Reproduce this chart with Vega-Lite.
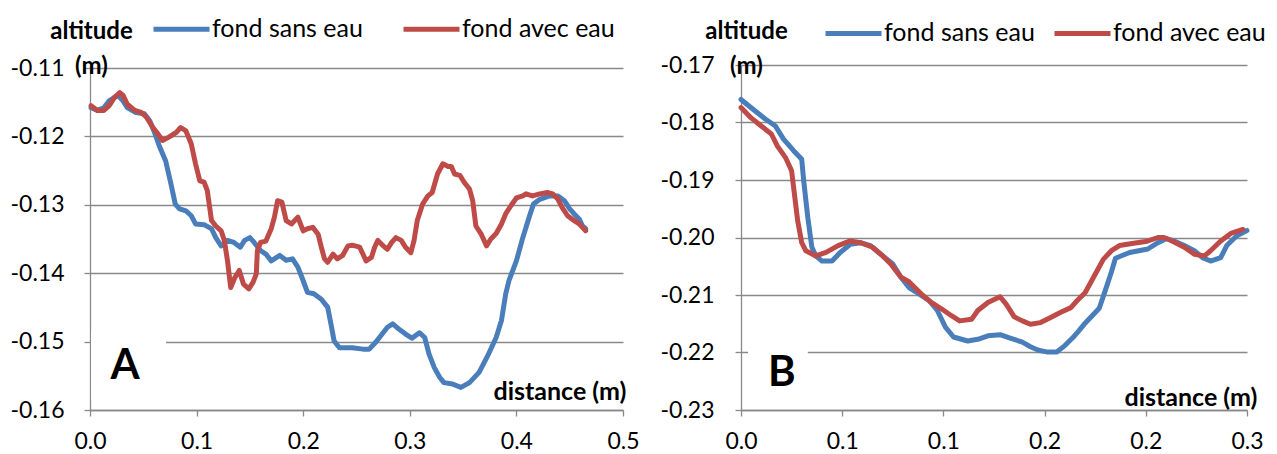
{
  "$schema": "https://vega.github.io/schema/vega-lite/v6.json",
  "autosize": {"type": "pad"},
  "padding": {"left": 10, "top": -2, "right": 0, "bottom": 0},
  "background": "white",
  "bounds": "flush",
  "spacing": 118,
  "config": {
    "font": "Lato",
    "view": {"stroke": null},
    "axis": {
      "labelFont": "Lato", "labelFontSize": 23, "labelColor": "black", "labelFlush": false,
      "domainColor": "#898989", "tickColor": "#898989", "gridColor": "#898989",
      "domainWidth": 1.3, "tickWidth": 1.3, "gridWidth": 1.3, "gridOpacity": 1,
      "tickSize": 6,
      "titleFont": "Lato", "titleFontSize": 24, "titleFontWeight": "bold", "titleColor": "black"
    },
    "legend": {
      "labelFont": "Lato", "labelFontSize": 25, "labelColor": "black", "labelLimit": 400,
      "symbolType": "stroke", "symbolSize": 3136, "symbolStrokeWidth": 5,
      "labelOffset": 0, "padding": 0, "direction": "horizontal", "orient": "none", "title": null
    }
  },
  "resolve": {"scale": {"color": "independent"}},
  "datasets": {
    "A": [
      {"d":0.001,"z":-0.1158,"s":"fond sans eau"},{"d":0.007,"z":-0.1162,"s":"fond sans eau"},{"d":0.013,"z":-0.1158,"s":"fond sans eau"},{"d":0.018,"z":-0.1148,"s":"fond sans eau"},{"d":0.026,"z":-0.1140,"s":"fond sans eau"},{"d":0.031,"z":-0.1148,"s":"fond sans eau"},{"d":0.035,"z":-0.1158,"s":"fond sans eau"},{"d":0.043,"z":-0.1165,"s":"fond sans eau"},{"d":0.051,"z":-0.1167,"s":"fond sans eau"},{"d":0.056,"z":-0.1177,"s":"fond sans eau"},{"d":0.060,"z":-0.1192,"s":"fond sans eau"},{"d":0.065,"z":-0.1214,"s":"fond sans eau"},{"d":0.071,"z":-0.1236,"s":"fond sans eau"},{"d":0.076,"z":-0.1270,"s":"fond sans eau"},{"d":0.080,"z":-0.1299,"s":"fond sans eau"},{"d":0.084,"z":-0.1306,"s":"fond sans eau"},{"d":0.090,"z":-0.1309,"s":"fond sans eau"},{"d":0.095,"z":-0.1316,"s":"fond sans eau"},{"d":0.099,"z":-0.1328,"s":"fond sans eau"},{"d":0.107,"z":-0.1329,"s":"fond sans eau"},{"d":0.114,"z":-0.1335,"s":"fond sans eau"},{"d":0.118,"z":-0.1348,"s":"fond sans eau"},{"d":0.123,"z":-0.1360,"s":"fond sans eau"},{"d":0.129,"z":-0.1352,"s":"fond sans eau"},{"d":0.135,"z":-0.1355,"s":"fond sans eau"},{"d":0.141,"z":-0.1362,"s":"fond sans eau"},{"d":0.145,"z":-0.1352,"s":"fond sans eau"},{"d":0.150,"z":-0.1348,"s":"fond sans eau"},{"d":0.154,"z":-0.1355,"s":"fond sans eau"},{"d":0.160,"z":-0.1367,"s":"fond sans eau"},{"d":0.165,"z":-0.1372,"s":"fond sans eau"},{"d":0.170,"z":-0.1382,"s":"fond sans eau"},{"d":0.178,"z":-0.1374,"s":"fond sans eau"},{"d":0.184,"z":-0.1381,"s":"fond sans eau"},{"d":0.190,"z":-0.1379,"s":"fond sans eau"},{"d":0.195,"z":-0.1391,"s":"fond sans eau"},{"d":0.200,"z":-0.1411,"s":"fond sans eau"},{"d":0.204,"z":-0.1428,"s":"fond sans eau"},{"d":0.210,"z":-0.1430,"s":"fond sans eau"},{"d":0.217,"z":-0.1438,"s":"fond sans eau"},{"d":0.223,"z":-0.1450,"s":"fond sans eau"},{"d":0.226,"z":-0.1474,"s":"fond sans eau"},{"d":0.229,"z":-0.1499,"s":"fond sans eau"},{"d":0.234,"z":-0.1509,"s":"fond sans eau"},{"d":0.246,"z":-0.1509,"s":"fond sans eau"},{"d":0.256,"z":-0.1511,"s":"fond sans eau"},{"d":0.262,"z":-0.1511,"s":"fond sans eau"},{"d":0.268,"z":-0.1501,"s":"fond sans eau"},{"d":0.275,"z":-0.1487,"s":"fond sans eau"},{"d":0.279,"z":-0.1479,"s":"fond sans eau"},{"d":0.284,"z":-0.1474,"s":"fond sans eau"},{"d":0.290,"z":-0.1482,"s":"fond sans eau"},{"d":0.296,"z":-0.1489,"s":"fond sans eau"},{"d":0.302,"z":-0.1495,"s":"fond sans eau"},{"d":0.309,"z":-0.1487,"s":"fond sans eau"},{"d":0.314,"z":-0.1494,"s":"fond sans eau"},{"d":0.318,"z":-0.1518,"s":"fond sans eau"},{"d":0.323,"z":-0.1538,"s":"fond sans eau"},{"d":0.328,"z":-0.1552,"s":"fond sans eau"},{"d":0.332,"z":-0.1560,"s":"fond sans eau"},{"d":0.340,"z":-0.1562,"s":"fond sans eau"},{"d":0.348,"z":-0.1567,"s":"fond sans eau"},{"d":0.356,"z":-0.1560,"s":"fond sans eau"},{"d":0.365,"z":-0.1545,"s":"fond sans eau"},{"d":0.373,"z":-0.1521,"s":"fond sans eau"},{"d":0.381,"z":-0.1494,"s":"fond sans eau"},{"d":0.386,"z":-0.1469,"s":"fond sans eau"},{"d":0.390,"z":-0.1430,"s":"fond sans eau"},{"d":0.393,"z":-0.1411,"s":"fond sans eau"},{"d":0.400,"z":-0.1382,"s":"fond sans eau"},{"d":0.406,"z":-0.1348,"s":"fond sans eau"},{"d":0.412,"z":-0.1318,"s":"fond sans eau"},{"d":0.416,"z":-0.1299,"s":"fond sans eau"},{"d":0.422,"z":-0.1292,"s":"fond sans eau"},{"d":0.431,"z":-0.1287,"s":"fond sans eau"},{"d":0.439,"z":-0.1287,"s":"fond sans eau"},{"d":0.445,"z":-0.1294,"s":"fond sans eau"},{"d":0.450,"z":-0.1306,"s":"fond sans eau"},{"d":0.454,"z":-0.1313,"s":"fond sans eau"},{"d":0.459,"z":-0.1321,"s":"fond sans eau"},{"d":0.462,"z":-0.1331,"s":"fond sans eau"},{"d":0.465,"z":-0.1335,"s":"fond sans eau"},
      {"d":0.001,"z":-0.1155,"s":"fond avec eau"},{"d":0.007,"z":-0.1162,"s":"fond avec eau"},{"d":0.013,"z":-0.1162,"s":"fond avec eau"},{"d":0.018,"z":-0.1155,"s":"fond avec eau"},{"d":0.023,"z":-0.1143,"s":"fond avec eau"},{"d":0.028,"z":-0.1136,"s":"fond avec eau"},{"d":0.031,"z":-0.1140,"s":"fond avec eau"},{"d":0.035,"z":-0.1153,"s":"fond avec eau"},{"d":0.042,"z":-0.1162,"s":"fond avec eau"},{"d":0.048,"z":-0.1165,"s":"fond avec eau"},{"d":0.053,"z":-0.1172,"s":"fond avec eau"},{"d":0.059,"z":-0.1187,"s":"fond avec eau"},{"d":0.064,"z":-0.1197,"s":"fond avec eau"},{"d":0.068,"z":-0.1206,"s":"fond avec eau"},{"d":0.074,"z":-0.1201,"s":"fond avec eau"},{"d":0.081,"z":-0.1194,"s":"fond avec eau"},{"d":0.085,"z":-0.1187,"s":"fond avec eau"},{"d":0.090,"z":-0.1192,"s":"fond avec eau"},{"d":0.095,"z":-0.1211,"s":"fond avec eau"},{"d":0.099,"z":-0.1240,"s":"fond avec eau"},{"d":0.103,"z":-0.1265,"s":"fond avec eau"},{"d":0.107,"z":-0.1267,"s":"fond avec eau"},{"d":0.110,"z":-0.1279,"s":"fond avec eau"},{"d":0.114,"z":-0.1323,"s":"fond avec eau"},{"d":0.118,"z":-0.1331,"s":"fond avec eau"},{"d":0.123,"z":-0.1338,"s":"fond avec eau"},{"d":0.126,"z":-0.1352,"s":"fond avec eau"},{"d":0.129,"z":-0.1382,"s":"fond avec eau"},{"d":0.132,"z":-0.1421,"s":"fond avec eau"},{"d":0.136,"z":-0.1406,"s":"fond avec eau"},{"d":0.140,"z":-0.1396,"s":"fond avec eau"},{"d":0.144,"z":-0.1416,"s":"fond avec eau"},{"d":0.149,"z":-0.1423,"s":"fond avec eau"},{"d":0.153,"z":-0.1413,"s":"fond avec eau"},{"d":0.156,"z":-0.1401,"s":"fond avec eau"},{"d":0.157,"z":-0.1367,"s":"fond avec eau"},{"d":0.160,"z":-0.1355,"s":"fond avec eau"},{"d":0.165,"z":-0.1353,"s":"fond avec eau"},{"d":0.170,"z":-0.1335,"s":"fond avec eau"},{"d":0.173,"z":-0.1318,"s":"fond avec eau"},{"d":0.176,"z":-0.1294,"s":"fond avec eau"},{"d":0.180,"z":-0.1296,"s":"fond avec eau"},{"d":0.184,"z":-0.1323,"s":"fond avec eau"},{"d":0.189,"z":-0.1328,"s":"fond avec eau"},{"d":0.195,"z":-0.1318,"s":"fond avec eau"},{"d":0.200,"z":-0.1338,"s":"fond avec eau"},{"d":0.204,"z":-0.1335,"s":"fond avec eau"},{"d":0.209,"z":-0.1333,"s":"fond avec eau"},{"d":0.214,"z":-0.1343,"s":"fond avec eau"},{"d":0.217,"z":-0.1362,"s":"fond avec eau"},{"d":0.220,"z":-0.1379,"s":"fond avec eau"},{"d":0.223,"z":-0.1384,"s":"fond avec eau"},{"d":0.228,"z":-0.1372,"s":"fond avec eau"},{"d":0.232,"z":-0.1379,"s":"fond avec eau"},{"d":0.237,"z":-0.1374,"s":"fond avec eau"},{"d":0.242,"z":-0.1360,"s":"fond avec eau"},{"d":0.246,"z":-0.1359,"s":"fond avec eau"},{"d":0.253,"z":-0.1362,"s":"fond avec eau"},{"d":0.256,"z":-0.1372,"s":"fond avec eau"},{"d":0.259,"z":-0.1382,"s":"fond avec eau"},{"d":0.264,"z":-0.1377,"s":"fond avec eau"},{"d":0.267,"z":-0.1362,"s":"fond avec eau"},{"d":0.270,"z":-0.1352,"s":"fond avec eau"},{"d":0.275,"z":-0.1360,"s":"fond avec eau"},{"d":0.279,"z":-0.1365,"s":"fond avec eau"},{"d":0.283,"z":-0.1355,"s":"fond avec eau"},{"d":0.287,"z":-0.1348,"s":"fond avec eau"},{"d":0.292,"z":-0.1352,"s":"fond avec eau"},{"d":0.296,"z":-0.1362,"s":"fond avec eau"},{"d":0.301,"z":-0.1370,"s":"fond avec eau"},{"d":0.304,"z":-0.1352,"s":"fond avec eau"},{"d":0.307,"z":-0.1323,"s":"fond avec eau"},{"d":0.312,"z":-0.1299,"s":"fond avec eau"},{"d":0.317,"z":-0.1287,"s":"fond avec eau"},{"d":0.321,"z":-0.1282,"s":"fond avec eau"},{"d":0.326,"z":-0.1255,"s":"fond avec eau"},{"d":0.331,"z":-0.1240,"s":"fond avec eau"},{"d":0.336,"z":-0.1244,"s":"fond avec eau"},{"d":0.339,"z":-0.1244,"s":"fond avec eau"},{"d":0.342,"z":-0.1255,"s":"fond avec eau"},{"d":0.347,"z":-0.1257,"s":"fond avec eau"},{"d":0.351,"z":-0.1267,"s":"fond avec eau"},{"d":0.356,"z":-0.1277,"s":"fond avec eau"},{"d":0.359,"z":-0.1294,"s":"fond avec eau"},{"d":0.362,"z":-0.1331,"s":"fond avec eau"},{"d":0.367,"z":-0.1343,"s":"fond avec eau"},{"d":0.372,"z":-0.1360,"s":"fond avec eau"},{"d":0.376,"z":-0.1350,"s":"fond avec eau"},{"d":0.381,"z":-0.1342,"s":"fond avec eau"},{"d":0.386,"z":-0.1328,"s":"fond avec eau"},{"d":0.390,"z":-0.1313,"s":"fond avec eau"},{"d":0.395,"z":-0.1301,"s":"fond avec eau"},{"d":0.400,"z":-0.1290,"s":"fond avec eau"},{"d":0.406,"z":-0.1287,"s":"fond avec eau"},{"d":0.409,"z":-0.1284,"s":"fond avec eau"},{"d":0.415,"z":-0.1287,"s":"fond avec eau"},{"d":0.422,"z":-0.1284,"s":"fond avec eau"},{"d":0.429,"z":-0.1282,"s":"fond avec eau"},{"d":0.434,"z":-0.1284,"s":"fond avec eau"},{"d":0.439,"z":-0.1292,"s":"fond avec eau"},{"d":0.443,"z":-0.1304,"s":"fond avec eau"},{"d":0.448,"z":-0.1316,"s":"fond avec eau"},{"d":0.453,"z":-0.1322,"s":"fond avec eau"},{"d":0.459,"z":-0.1328,"s":"fond avec eau"},{"d":0.462,"z":-0.1333,"s":"fond avec eau"},{"d":0.465,"z":-0.1338,"s":"fond avec eau"}
    ],
    "B": [
      {"d":0.000,"z":-0.1760,"s":"fond sans eau"},{"d":0.007,"z":-0.1780,"s":"fond sans eau"},{"d":0.012,"z":-0.1794,"s":"fond sans eau"},{"d":0.017,"z":-0.1806,"s":"fond sans eau"},{"d":0.021,"z":-0.1829,"s":"fond sans eau"},{"d":0.026,"z":-0.1849,"s":"fond sans eau"},{"d":0.030,"z":-0.1864,"s":"fond sans eau"},{"d":0.031,"z":-0.1902,"s":"fond sans eau"},{"d":0.033,"z":-0.1965,"s":"fond sans eau"},{"d":0.035,"z":-0.2017,"s":"fond sans eau"},{"d":0.037,"z":-0.2032,"s":"fond sans eau"},{"d":0.040,"z":-0.2041,"s":"fond sans eau"},{"d":0.045,"z":-0.2041,"s":"fond sans eau"},{"d":0.049,"z":-0.2026,"s":"fond sans eau"},{"d":0.054,"z":-0.2012,"s":"fond sans eau"},{"d":0.059,"z":-0.2009,"s":"fond sans eau"},{"d":0.064,"z":-0.2014,"s":"fond sans eau"},{"d":0.069,"z":-0.2029,"s":"fond sans eau"},{"d":0.075,"z":-0.2046,"s":"fond sans eau"},{"d":0.079,"z":-0.2069,"s":"fond sans eau"},{"d":0.083,"z":-0.2087,"s":"fond sans eau"},{"d":0.087,"z":-0.2096,"s":"fond sans eau"},{"d":0.093,"z":-0.2110,"s":"fond sans eau"},{"d":0.097,"z":-0.2127,"s":"fond sans eau"},{"d":0.101,"z":-0.2156,"s":"fond sans eau"},{"d":0.105,"z":-0.2173,"s":"fond sans eau"},{"d":0.112,"z":-0.2180,"s":"fond sans eau"},{"d":0.117,"z":-0.2177,"s":"fond sans eau"},{"d":0.122,"z":-0.2171,"s":"fond sans eau"},{"d":0.128,"z":-0.2169,"s":"fond sans eau"},{"d":0.133,"z":-0.2175,"s":"fond sans eau"},{"d":0.139,"z":-0.2182,"s":"fond sans eau"},{"d":0.143,"z":-0.2190,"s":"fond sans eau"},{"d":0.147,"z":-0.2196,"s":"fond sans eau"},{"d":0.151,"z":-0.2199,"s":"fond sans eau"},{"d":0.156,"z":-0.2199,"s":"fond sans eau"},{"d":0.160,"z":-0.2188,"s":"fond sans eau"},{"d":0.164,"z":-0.2174,"s":"fond sans eau"},{"d":0.167,"z":-0.2162,"s":"fond sans eau"},{"d":0.170,"z":-0.2149,"s":"fond sans eau"},{"d":0.177,"z":-0.2123,"s":"fond sans eau"},{"d":0.180,"z":-0.2092,"s":"fond sans eau"},{"d":0.183,"z":-0.2060,"s":"fond sans eau"},{"d":0.185,"z":-0.2036,"s":"fond sans eau"},{"d":0.192,"z":-0.2026,"s":"fond sans eau"},{"d":0.201,"z":-0.2020,"s":"fond sans eau"},{"d":0.206,"z":-0.2009,"s":"fond sans eau"},{"d":0.210,"z":-0.2002,"s":"fond sans eau"},{"d":0.214,"z":-0.2006,"s":"fond sans eau"},{"d":0.219,"z":-0.2014,"s":"fond sans eau"},{"d":0.224,"z":-0.2023,"s":"fond sans eau"},{"d":0.228,"z":-0.2035,"s":"fond sans eau"},{"d":0.232,"z":-0.2041,"s":"fond sans eau"},{"d":0.237,"z":-0.2035,"s":"fond sans eau"},{"d":0.240,"z":-0.2014,"s":"fond sans eau"},{"d":0.245,"z":-0.1997,"s":"fond sans eau"},{"d":0.250,"z":-0.1988,"s":"fond sans eau"},
      {"d":0.000,"z":-0.1774,"s":"fond avec eau"},{"d":0.005,"z":-0.1792,"s":"fond avec eau"},{"d":0.010,"z":-0.1806,"s":"fond avec eau"},{"d":0.015,"z":-0.1820,"s":"fond avec eau"},{"d":0.018,"z":-0.1841,"s":"fond avec eau"},{"d":0.022,"z":-0.1861,"s":"fond avec eau"},{"d":0.025,"z":-0.1884,"s":"fond avec eau"},{"d":0.026,"z":-0.1913,"s":"fond avec eau"},{"d":0.028,"z":-0.1971,"s":"fond avec eau"},{"d":0.030,"z":-0.2009,"s":"fond avec eau"},{"d":0.032,"z":-0.2023,"s":"fond avec eau"},{"d":0.037,"z":-0.2032,"s":"fond avec eau"},{"d":0.042,"z":-0.2026,"s":"fond avec eau"},{"d":0.048,"z":-0.2014,"s":"fond avec eau"},{"d":0.054,"z":-0.2006,"s":"fond avec eau"},{"d":0.059,"z":-0.2009,"s":"fond avec eau"},{"d":0.065,"z":-0.2017,"s":"fond avec eau"},{"d":0.070,"z":-0.2032,"s":"fond avec eau"},{"d":0.074,"z":-0.2046,"s":"fond avec eau"},{"d":0.079,"z":-0.2069,"s":"fond avec eau"},{"d":0.083,"z":-0.2077,"s":"fond avec eau"},{"d":0.085,"z":-0.2084,"s":"fond avec eau"},{"d":0.089,"z":-0.2098,"s":"fond avec eau"},{"d":0.094,"z":-0.2113,"s":"fond avec eau"},{"d":0.099,"z":-0.2124,"s":"fond avec eau"},{"d":0.104,"z":-0.2136,"s":"fond avec eau"},{"d":0.108,"z":-0.2145,"s":"fond avec eau"},{"d":0.114,"z":-0.2142,"s":"fond avec eau"},{"d":0.117,"z":-0.2127,"s":"fond avec eau"},{"d":0.122,"z":-0.2113,"s":"fond avec eau"},{"d":0.128,"z":-0.2103,"s":"fond avec eau"},{"d":0.131,"z":-0.2116,"s":"fond avec eau"},{"d":0.135,"z":-0.2138,"s":"fond avec eau"},{"d":0.139,"z":-0.2145,"s":"fond avec eau"},{"d":0.143,"z":-0.2151,"s":"fond avec eau"},{"d":0.148,"z":-0.2148,"s":"fond avec eau"},{"d":0.153,"z":-0.2139,"s":"fond avec eau"},{"d":0.158,"z":-0.2130,"s":"fond avec eau"},{"d":0.163,"z":-0.2122,"s":"fond avec eau"},{"d":0.166,"z":-0.2110,"s":"fond avec eau"},{"d":0.170,"z":-0.2096,"s":"fond avec eau"},{"d":0.175,"z":-0.2064,"s":"fond avec eau"},{"d":0.179,"z":-0.2038,"s":"fond avec eau"},{"d":0.183,"z":-0.2023,"s":"fond avec eau"},{"d":0.187,"z":-0.2014,"s":"fond avec eau"},{"d":0.194,"z":-0.2010,"s":"fond avec eau"},{"d":0.200,"z":-0.2007,"s":"fond avec eau"},{"d":0.206,"z":-0.2000,"s":"fond avec eau"},{"d":0.209,"z":-0.2000,"s":"fond avec eau"},{"d":0.213,"z":-0.2006,"s":"fond avec eau"},{"d":0.219,"z":-0.2017,"s":"fond avec eau"},{"d":0.224,"z":-0.2029,"s":"fond avec eau"},{"d":0.229,"z":-0.2032,"s":"fond avec eau"},{"d":0.232,"z":-0.2023,"s":"fond avec eau"},{"d":0.237,"z":-0.2006,"s":"fond avec eau"},{"d":0.242,"z":-0.1993,"s":"fond avec eau"},{"d":0.248,"z":-0.1986,"s":"fond avec eau"}
    ]
  },
  "hconcat": [
    {
      "width": 533,
      "height": 345,
      "layer": [
        {
          "data": {"name": "A"},
          "mark": {"type": "line", "strokeWidth": 5, "strokeCap": "round", "strokeJoin": "round"},
          "encoding": {
            "x": {
              "field": "d", "type": "quantitative",
              "scale": {"domain": [0, 0.5], "nice": false, "zero": false},
              "axis": {
                "values": [0, 0.1, 0.2, 0.3, 0.4, 0.5], "format": ".1f", "grid": false,
                "labelPadding": 14,
                "title": "distance (m)", "titleFontSize": 25, "titleAlign": "right", "titleBaseline": "middle",
                "titleX": 536, "titleY": -19
              }
            },
            "y": {
              "field": "z", "type": "quantitative",
              "scale": {"domain": [-0.16, -0.10956], "nice": false, "zero": false},
              "axis": {
                "values": [-0.16, -0.15, -0.14, -0.13, -0.12, -0.11],
                "labelExpr": "'-' + format(-datum.value, '.2f')",
                "grid": true, "labelPadding": 20,
                "title": ["altitude", "(m)"], "titleAngle": 0, "titleAlign": "center",
                "titleBaseline": "top", "titleX": 1, "titleY": -45.5, "titleLineHeight": 35
              }
            },
            "color": {
              "field": "s", "type": "nominal",
              "scale": {"domain": ["fond sans eau", "fond avec eau"], "range": ["#4A7EBB", "#BE4B48"]},
              "legend": {"legendX": 61, "legendY": -66.6, "columnPadding": 30}
            },
            "order": {"field": "d", "type": "quantitative"}
          }
        },
        {
          "data": {"values": [{}]},
          "mark": {"type": "rect", "color": "white"},
          "encoding": {
            "x": {"datum": 0.001, "type": "quantitative"},
            "x2": {"datum": 0.0713},
            "y": {"datum": -0.1585, "type": "quantitative"},
            "y2": {"datum": -0.1485}
          }
        },
        {
          "data": {"values": [{}]},
          "mark": {"type": "text", "text": "A", "font": "Lato", "fontSize": 42, "fontWeight": "bold", "color": "black", "baseline": "middle", "align": "center"},
          "encoding": {
            "x": {"datum": 0.0328, "type": "quantitative"},
            "y": {"datum": -0.1535, "type": "quantitative"}
          }
        }
      ]
    },
    {
      "width": 506,
      "height": 345,
      "layer": [
        {
          "data": {"name": "B"},
          "mark": {"type": "line", "strokeWidth": 5, "strokeCap": "round", "strokeJoin": "round"},
          "encoding": {
            "x": {
              "field": "d", "type": "quantitative",
              "scale": {"domain": [0, 0.25], "nice": false, "zero": false},
              "axis": {
                "values": [0, 0.05, 0.1, 0.15, 0.2, 0.25],
                "labelExpr": "format(floor(datum.value * 10 + 0.5 + 0.000001) / 10, '.1f')",
                "grid": false, "labelPadding": 14,
                "title": "distance (m)", "titleFontSize": 25, "titleAlign": "right", "titleBaseline": "middle",
                "titleX": 516, "titleY": -13
              }
            },
            "y": {
              "field": "z", "type": "quantitative",
              "scale": {"domain": [-0.23, -0.17], "nice": false, "zero": false},
              "axis": {
                "values": [-0.23, -0.22, -0.21, -0.2, -0.19, -0.18, -0.17],
                "labelExpr": "'-' + format(-datum.value, '.2f')",
                "grid": true, "labelPadding": 21,
                "title": ["altitude", "(m)"], "titleAngle": 0, "titleAlign": "center",
                "titleBaseline": "top", "titleX": 5, "titleY": -45.5, "titleLineHeight": 35
              }
            },
            "color": {
              "field": "s", "type": "nominal",
              "scale": {"domain": ["fond sans eau", "fond avec eau"], "range": ["#4A7EBB", "#BE4B48"]},
              "legend": {"legendX": 82, "legendY": -62.3, "columnPadding": 9}
            },
            "order": {"field": "d", "type": "quantitative"}
          }
        },
        {
          "data": {"values": [{}]},
          "mark": {"type": "rect", "color": "white"},
          "encoding": {
            "x": {"datum": 0.0035, "type": "quantitative"},
            "x2": {"datum": 0.033},
            "y": {"datum": -0.2265, "type": "quantitative"},
            "y2": {"datum": -0.2175}
          }
        },
        {
          "data": {"values": [{}]},
          "mark": {"type": "text", "text": "B", "font": "Lato", "fontSize": 42, "fontWeight": "bold", "color": "black", "baseline": "middle", "align": "center"},
          "encoding": {
            "x": {"datum": 0.0202, "type": "quantitative"},
            "y": {"datum": -0.2235, "type": "quantitative"}
          }
        }
      ]
    }
  ]
}
